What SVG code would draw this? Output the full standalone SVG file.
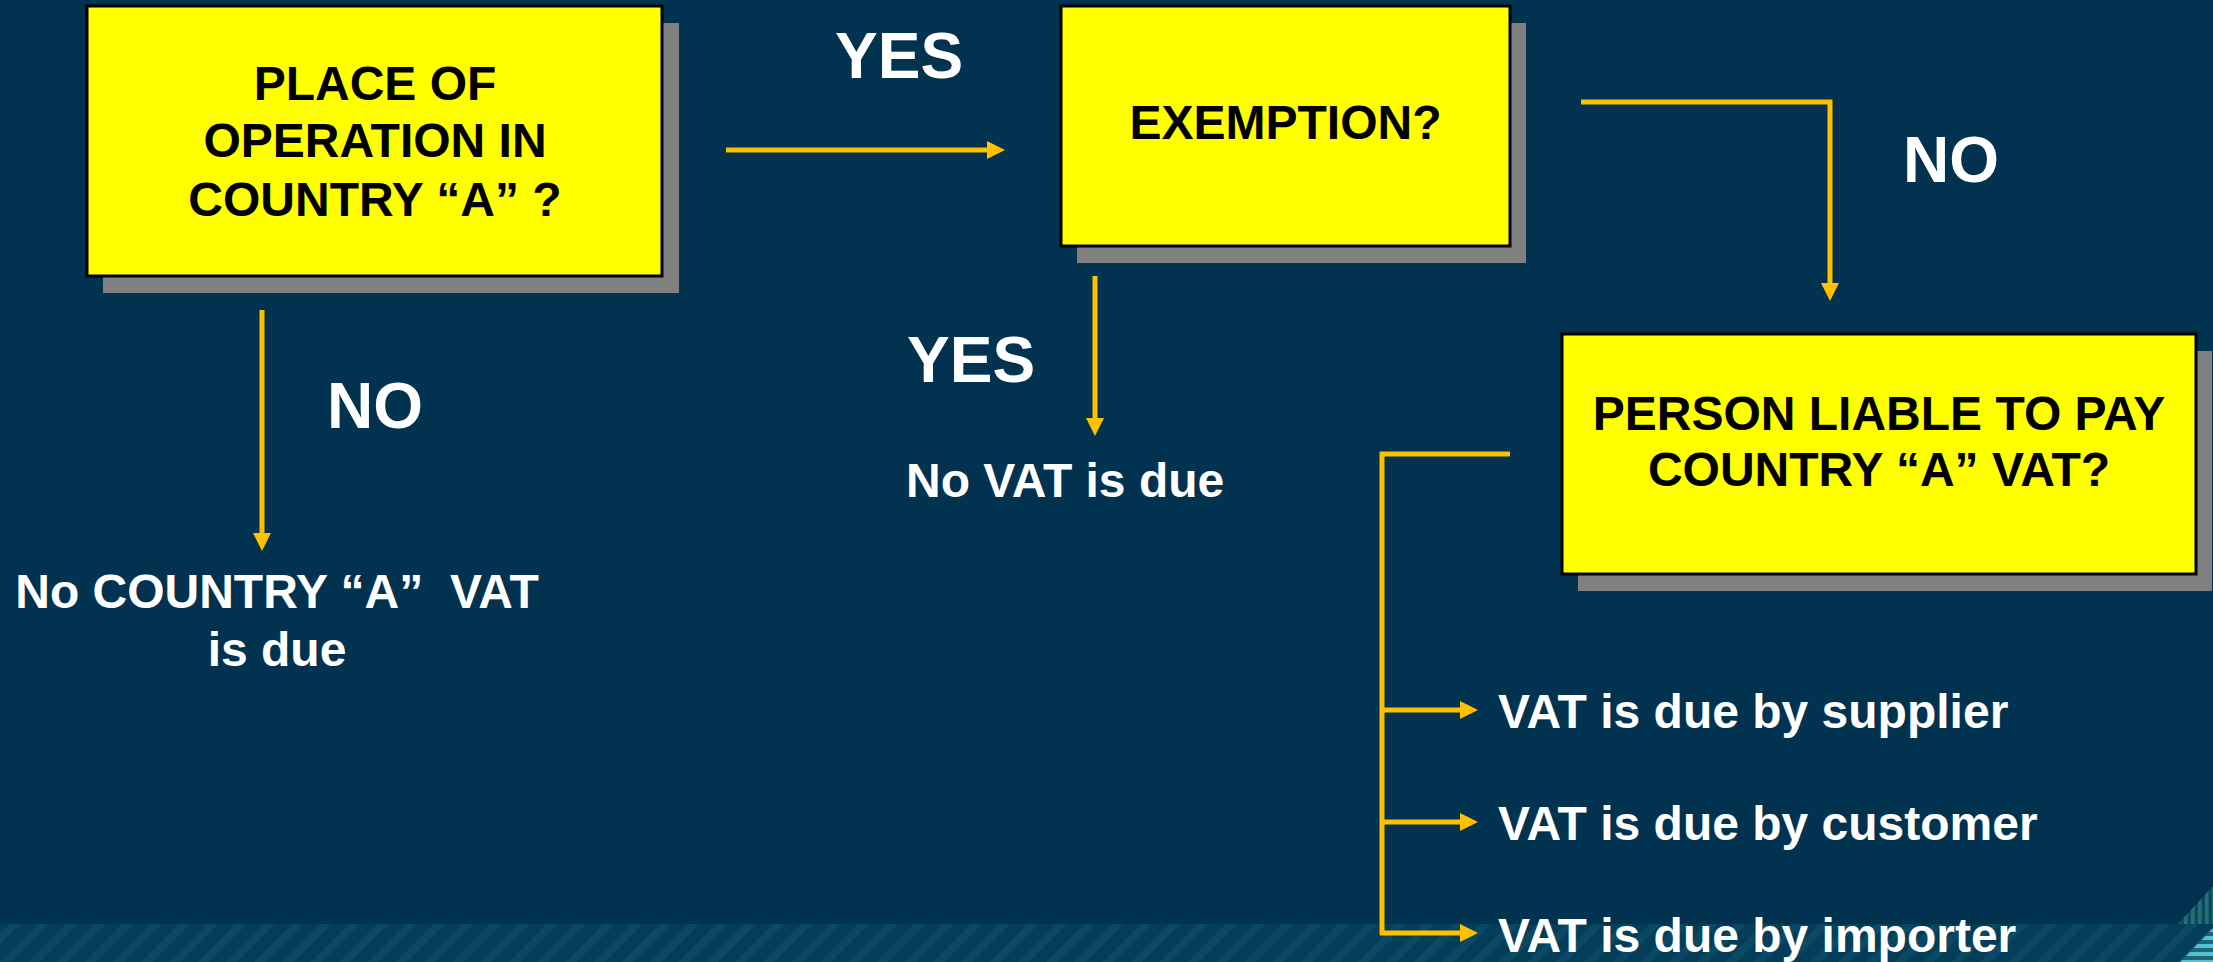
<svg xmlns="http://www.w3.org/2000/svg" width="2213" height="962" viewBox="0 0 2213 962">
  <style>
    .box { fill: #FFFF00; stroke: #000000; stroke-width: 3; }
    .shadow { fill: #808080; }
    .btxt { font-family: "Liberation Sans", Arial, sans-serif; font-weight: bold; font-size: 48px; fill: #000000; text-anchor: middle; }
    .lbl { font-family: "Liberation Sans", Arial, sans-serif; font-weight: bold; font-size: 64px; fill: #FFFFFF; }
    .res { font-family: "Liberation Sans", Arial, sans-serif; font-weight: bold; font-size: 48px; fill: #FFFFFF; white-space: pre; }
    .conn { fill: none; stroke: #FFC000; stroke-width: 5; }
  </style>
  <defs>
    <marker id="ah" markerUnits="userSpaceOnUse" markerWidth="18" markerHeight="18" refX="4" refY="9" orient="auto">
      <path d="M0,0 L18,9 L0,18 Z" fill="#FFC000"/>
    </marker>
    <pattern id="band" patternUnits="userSpaceOnUse" width="20" height="20" patternTransform="rotate(45)">
      <rect width="20" height="20" fill="#043D57"/>
      <rect width="8" height="20" fill="#0A4863"/>
    </pattern>
    <pattern id="vstr" patternUnits="userSpaceOnUse" width="7" height="7">
      <rect width="7" height="7" fill="#0D4A5E"/>
      <rect width="3.5" height="7" fill="#237079"/>
    </pattern>
    <pattern id="hstr" patternUnits="userSpaceOnUse" width="8" height="8">
      <rect width="8" height="8" fill="#1E6672"/>
      <rect width="8" height="4" fill="#4FC3D4"/>
    </pattern>
  </defs>

  <rect width="2213" height="962" fill="#01324F"/>
  <rect x="0" y="924" width="2213" height="38" fill="url(#band)"/>
  <polygon points="2178,924 2213,886 2213,924" fill="url(#vstr)"/>
  <polygon points="2180,962 2213,928 2213,962" fill="url(#hstr)"/>

  <g id="node-place">
    <rect class="shadow" x="103" y="23" width="576" height="270"/>
    <rect class="box" x="87" y="6" width="575" height="270"/>
    <text class="btxt" x="375" y="100">PLACE OF</text>
    <text class="btxt" x="375" y="157">OPERATION IN</text>
    <text class="btxt" x="375" y="216">COUNTRY “A” ?</text>
  </g>

  <g id="node-exemption">
    <rect class="shadow" x="1077" y="23" width="449" height="240"/>
    <rect class="box" x="1061" y="6" width="449" height="240"/>
    <text class="btxt" x="1285.5" y="139">EXEMPTION?</text>
  </g>

  <g id="node-person">
    <rect class="shadow" x="1578" y="351" width="634" height="240"/>
    <rect class="box" x="1562" y="334" width="634" height="240"/>
    <text class="btxt" x="1879" y="430">PERSON LIABLE TO PAY</text>
    <text class="btxt" x="1879" y="486">COUNTRY “A” VAT?</text>
  </g>

  <g id="connectors">
    <path class="conn" d="M726,150 H991" marker-end="url(#ah)"/>
    <path class="conn" d="M1581,102 H1830 V287" marker-end="url(#ah)"/>
    <path class="conn" d="M1095,276 V422" marker-end="url(#ah)"/>
    <path class="conn" d="M262,310 V537" marker-end="url(#ah)"/>
    <path class="conn" d="M1510,454 H1382 V935"/>
    <path class="conn" d="M1380,710 H1464" marker-end="url(#ah)"/>
    <path class="conn" d="M1380,822 H1464" marker-end="url(#ah)"/>
    <path class="conn" d="M1380,933 H1464" marker-end="url(#ah)"/>
  </g>

  <g id="labels">
    <text class="lbl" x="835" y="78">YES</text>
    <text class="lbl" x="1903" y="182">NO</text>
    <text class="lbl" x="907" y="382">YES</text>
    <text class="lbl" x="327" y="428">NO</text>
  </g>

  <g id="node-no-country-vat">
    <text class="res" x="277" y="608" text-anchor="middle">No COUNTRY “A”  VAT</text>
    <text class="res" x="277" y="666" text-anchor="middle">is due</text>
  </g>
  <g id="node-no-vat">
    <text class="res" x="906" y="497">No VAT is due</text>
  </g>
  <g id="node-supplier">
    <text class="res" x="1498" y="728">VAT is due by supplier</text>
  </g>
  <g id="node-customer">
    <text class="res" x="1498" y="840">VAT is due by customer</text>
  </g>
  <g id="node-importer">
    <text class="res" x="1498" y="952">VAT is due by importer</text>
  </g>
</svg>
